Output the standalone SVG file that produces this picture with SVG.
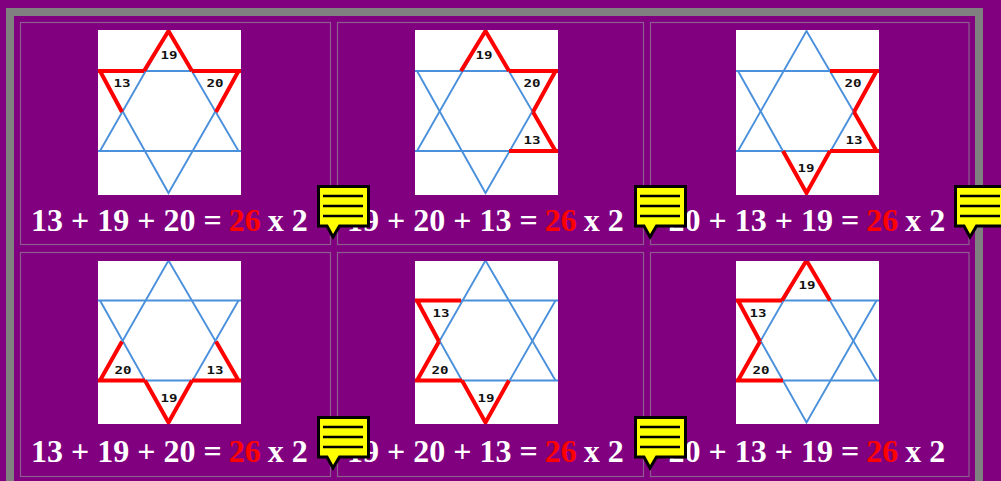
<svg xmlns="http://www.w3.org/2000/svg" width="1001" height="481" viewBox="0 0 1001 481">
<style>
.frame{fill:none;stroke:#808080;stroke-width:8}
.cell{fill:none;stroke:#8f5c8f;stroke-width:1.2}
.paper{fill:#fff}
.blue{fill:none;stroke:#4a90dc;stroke-width:1.9}
.red{fill:none;stroke:#f00;stroke-width:4;stroke-linejoin:miter;stroke-linecap:butt}
.num{font-family:"DejaVu Sans Mono","Liberation Mono",monospace;font-weight:bold;font-size:11px;fill:#111;text-anchor:middle}
.sum{font-family:"Liberation Serif","Times New Roman",serif;font-weight:bold;font-size:32px;fill:#fff}
.sum .hot{fill:#f00}
.bub{fill:#ff0;stroke:#000;stroke-width:3;stroke-linejoin:miter}
.bl{stroke:#000;stroke-width:2.4}
</style>
<defs>
<clipPath id="c1"><rect x="0" y="0" width="143" height="165"/></clipPath>
<clipPath id="c2"><rect x="0" y="1.5" width="143" height="163"/></clipPath>
<g id="star" class="blue">
<path d="M0 41H143M0 121H143"/>
<path d="M2 41L70.5 163L140.500 41"/>
<path d="M2 121L70.500 1L140.500 121"/>
</g>
<path id="top" class="red" d="M46 41L70.500 1L94 41"/>
<path id="ul" class="red" d="M0 41H46M2 41L24 82"/>
<path id="ur" class="red" d="M94 41H143M140.500 41L118 82"/>
<path id="lr" class="red" d="M118 82L140.500 121M94 121H143"/>
<path id="ll" class="red" d="M24 82L2 121M0 121H47"/>
<path id="bot" class="red" d="M47 121L70.500 163L94 121"/>
<g id="note">
<path class="bub" d="M1.500 1.500H51.500V41H22.500L16 52L10 41H1.500Z"/>
<path class="bl" d="M6 11H46M6 21H46M6 31H46"/>
</g>
</defs>
<rect width="1001" height="481" fill="#800080"/>
<path class="frame" d="M10 481V12H979V481"/>
<g id="cells">
<rect class="cell" x="20.500" y="22.500" width="310" height="222"/>
<rect class="cell" x="337.500" y="22.500" width="306" height="222"/>
<rect class="cell" x="650.500" y="22.500" width="318.500" height="222"/>
<rect class="cell" x="20.500" y="252.500" width="310" height="224"/>
<rect class="cell" x="337.500" y="252.500" width="306" height="224"/>
<rect class="cell" x="650.500" y="252.500" width="318.500" height="224"/>
</g>
<g id="panel-1">
<g transform="translate(98 30)" clip-path="url(#c1)">
<rect class="paper" width="143" height="165"/>
<use href="#star"/><use href="#ul"/><use href="#ur"/><use href="#top"/>
<text class="num" x="71" y="29" textLength="17" lengthAdjust="spacingAndGlyphs">19</text>
<text class="num" x="24" y="57" textLength="17" lengthAdjust="spacingAndGlyphs">13</text>
<text class="num" x="117" y="57" textLength="17" lengthAdjust="spacingAndGlyphs">20</text>
</g>
<text class="sum" x="31" y="231">13 + 19 + 20 = <tspan class="hot" dx="-1">26</tspan> <tspan dx="-1">x 2</tspan></text>
</g>
<g id="panel-2">
<g transform="translate(415 30)" clip-path="url(#c1)">
<rect class="paper" width="143" height="165"/>
<use href="#star"/><use href="#top"/><use href="#ur"/><use href="#lr"/>
<text class="num" x="69" y="29" textLength="17" lengthAdjust="spacingAndGlyphs">19</text>
<text class="num" x="117" y="57" textLength="17" lengthAdjust="spacingAndGlyphs">20</text>
<text class="num" x="117" y="114" textLength="17" lengthAdjust="spacingAndGlyphs">13</text>
</g>
<text class="sum" x="347" y="231">19 + 20 + 13 = <tspan class="hot" dx="-1">26</tspan> <tspan dx="-1">x 2</tspan></text>
</g>
<g id="panel-3">
<g transform="translate(736 30)" clip-path="url(#c1)">
<rect class="paper" width="143" height="165"/>
<use href="#star"/><use href="#ur"/><use href="#lr"/><use href="#bot"/>
<text class="num" x="117" y="57" textLength="17" lengthAdjust="spacingAndGlyphs">20</text>
<text class="num" x="118" y="114" textLength="17" lengthAdjust="spacingAndGlyphs">13</text>
<text class="num" x="70" y="142" textLength="17" lengthAdjust="spacingAndGlyphs">19</text>
</g>
<text class="sum" x="668.500" y="231">20 + 13 + 19 = <tspan class="hot" dx="-1">26</tspan> <tspan dx="-1">x 2</tspan></text>
</g>
<g id="panel-4">
<g transform="translate(98 259.500)" clip-path="url(#c2)">
<rect class="paper" width="143" height="165"/>
<use href="#star"/><use href="#ll"/><use href="#lr"/><use href="#bot"/>
<text class="num" x="25" y="114" textLength="17" lengthAdjust="spacingAndGlyphs">20</text>
<text class="num" x="117" y="114" textLength="17" lengthAdjust="spacingAndGlyphs">13</text>
<text class="num" x="71" y="142" textLength="17" lengthAdjust="spacingAndGlyphs">19</text>
</g>
<text class="sum" x="31" y="462">13 + 19 + 20 = <tspan class="hot" dx="-1">26</tspan> <tspan dx="-1">x 2</tspan></text>
</g>
<g id="panel-5">
<g transform="translate(415 259.500)" clip-path="url(#c2)">
<rect class="paper" width="143" height="165"/>
<use href="#star"/><use href="#ul"/><use href="#ll"/><use href="#bot"/>
<text class="num" x="26" y="57" textLength="17" lengthAdjust="spacingAndGlyphs">13</text>
<text class="num" x="25" y="114" textLength="17" lengthAdjust="spacingAndGlyphs">20</text>
<text class="num" x="71" y="142" textLength="17" lengthAdjust="spacingAndGlyphs">19</text>
</g>
<text class="sum" x="347" y="462">19 + 20 + 13 = <tspan class="hot" dx="-1">26</tspan> <tspan dx="-1">x 2</tspan></text>
</g>
<g id="panel-6">
<g transform="translate(736 259.500)" clip-path="url(#c2)">
<rect class="paper" width="143" height="165"/>
<use href="#star"/><use href="#top"/><use href="#ul"/><use href="#ll"/>
<text class="num" x="71" y="29" textLength="17" lengthAdjust="spacingAndGlyphs">19</text>
<text class="num" x="22" y="57" textLength="17" lengthAdjust="spacingAndGlyphs">13</text>
<text class="num" x="25" y="114" textLength="17" lengthAdjust="spacingAndGlyphs">20</text>
</g>
<text class="sum" x="668.500" y="462">20 + 13 + 19 = <tspan class="hot" dx="-1">26</tspan> <tspan dx="-1">x 2</tspan></text>
</g>
<g id="notes">
<use id="note-1" href="#note" x="317" y="185"/>
<use id="note-2" href="#note" x="634" y="185"/>
<use id="note-3" href="#note" x="954" y="185"/>
<use id="note-4" href="#note" x="317" y="416"/>
<use id="note-5" href="#note" x="634" y="416"/>
</g>
</svg>
